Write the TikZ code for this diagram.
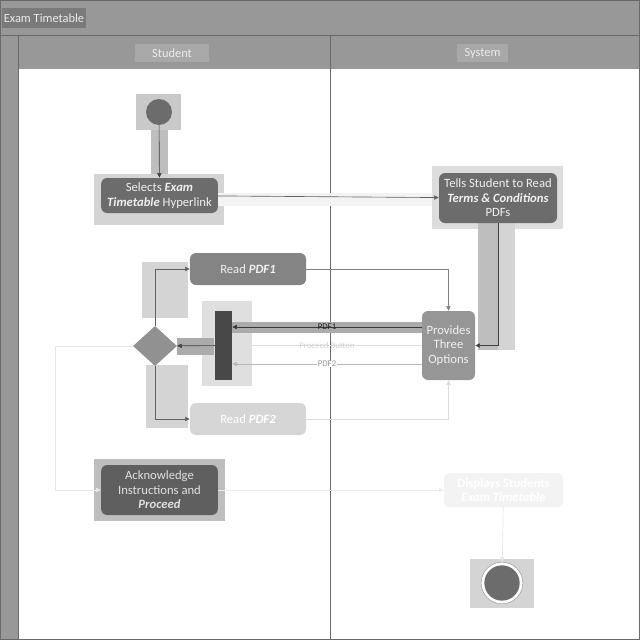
\documentclass[tikz,border=0pt]{standalone}
\usepackage{fontspec}
\setmainfont{Carlito}
\usetikzlibrary{arrows.meta, shapes.geometric}
\definecolor{lanegray} {RGB}{152,152,152}
\definecolor{framegray}{RGB}{105,105,105}
\definecolor{titlebox} {RGB}{122,122,122}
\definecolor{headbox}  {RGB}{168,168,168}
\definecolor{actdark}  {RGB}{108,108,108}
\definecolor{actmid}   {RGB}{132,132,132}
\definecolor{actlight} {RGB}{150,150,150}
\definecolor{actpale}  {RGB}{214,214,214}
\definecolor{actghost} {RGB}{243,243,243}
\definecolor{barclr}   {RGB}{72,72,72}
\definecolor{bandclr}  {RGB}{212,212,212}
\definecolor{banddark} {RGB}{190,190,190}

\begin{document}
\begin{tikzpicture}[x=0.03cm, y=-0.03cm, font=\fontsize{10.8}{12.4}\selectfont,
  act/.style={rounded corners=0.18cm, align=center, text=white!94!black,
    inner sep=1pt, minimum width=3.5cm},
  flow/.style={-{Triangle[length=4pt,width=3.6pt]}, line width=0.55pt},
  lanelabel/.style={fill=#1, text=white!92!black, inner sep=1pt,
    font=\fontsize{10.6}{12}\selectfont}]
  \useasboundingbox (0,0) rectangle (640,640);
  % swimlane frame
  \fill[lanegray] (0,0) rectangle (640,69);
  \fill[lanegray] (0,35) rectangle (18,640);
  \draw[framegray, line width=0.6pt] (0.5,0.5) rectangle (639.5,639.5);
  \draw[framegray, line width=0.6pt] (0,35) -- (640,35);
  \draw[framegray, line width=0.6pt] (18,35) -- (18,640);
  \draw[framegray, line width=0.6pt] (330,35) -- (330,640);
  \node[lanelabel=titlebox, minimum width=2.52cm, minimum height=0.6cm] (title) at (44,18) {Exam Timetable};
  \node[lanelabel=headbox, minimum width=2.22cm, minimum height=0.54cm] (student) at (172,53) {Student};
  \node[lanelabel=headbox, minimum width=1.53cm, minimum height=0.54cm] (system) at (482.5,53) {System};
  % highlight bands
  \fill[bandclr!95!black] (136,94) rectangle (181,130);
  \fill[banddark] (151,130) rectangle (168,180);
  \fill[bandclr] (94,174) rectangle (224,225);
  \fill[actghost] (218,193) rectangle (440,206);
  \fill[bandclr!80!white] (432,166) rectangle (563,229);
  \fill[banddark] (478,223) rectangle (498,350);
  \fill[bandclr] (498,223) rectangle (515,350);
  \fill[bandclr] (142,262) rectangle (188,318);
  \fill[bandclr!75!white] (202,301) rectangle (252,386);
  \fill[banddark!90!black] (177,338) rectangle (214,355);
  \fill[banddark!90!black] (232,322) rectangle (422,333);
  \fill[bandclr] (146,365) rectangle (188,428);
  \fill[banddark] (94,459) rectangle (225,521);
  \fill[bandclr] (470,559) rectangle (534,608);
  % nodes
  \node[circle, fill=actdark, minimum size=0.78cm, inner sep=0] (start) at (159,112) {};
  \node[act, fill=actdark, minimum height=1.05cm] (sel) at (159.5,195.5)
    {Selects \textbf{\textit{Exam}}\\ \textbf{\textit{Timetable}} Hyperlink};
  \node[act, fill=actdark, minimum width=3.54cm, minimum height=1.5cm] (tell) at (498,198)
    {Tells Student to Read\\ \textbf{\textit{Terms \& Conditions}}\\ PDFs};
  \node[act, fill=actmid, minimum width=3.48cm, minimum height=0.96cm] (pdf1) at (248,269)
    {Read \textbf{\textit{PDF1}}};
  \node[act, fill=actlight, minimum width=1.59cm, minimum height=2.07cm] (prov) at (448.5,345.5)
    {Provides\\ Three\\ Options};
  \node[fill=barclr, minimum width=0.51cm, minimum height=2.07cm, inner sep=0] (bar) at (223.5,345.5) {};
  \node[diamond, fill=actlight!105!white, minimum width=1.32cm, minimum height=1.2cm, inner sep=0] (dec) at (155,346) {};
  \node[act, fill=actpale, minimum width=3.48cm, minimum height=0.96cm, text=white] (pdf2) at (248,419)
    {Read \textbf{\textit{PDF2}}};
  \node[act, fill=actdark!88!black, minimum height=1.5cm, text=white!88!black] (ack) at (159.5,490)
    {Acknowledge\\ Instructions and\\ \textbf{\textit{Proceed}}};
  \node[act, fill=actghost, minimum width=3.57cm, minimum height=1.02cm, text=white] (disp) at (503.5,490)
    {\textbf{Displays Students}\\ \textbf{\textit{Exam Timetable}}};
  \node[circle, draw=actdark!70!white, fill=white, minimum size=1.25cm, inner sep=0] (stop) at (502,583) {};
  \fill[actdark] (stop.center) circle (0.53cm);
  \coordinate (turn) at (55,346);
  % connectors
  \draw[flow, black!75] (start) -- (sel);
  \draw[flow, black!62] (sel) -- (tell);
  \draw[flow, black!75] (tell.south) |- (prov.east);
  \draw[flow, black!50] (pdf1.east) -| (prov.north);
  \draw[flow, black!78] ([yshift=0.555cm]prov.west) -- ([yshift=0.555cm]bar.east)
    node[midway, text=black!85, font=\fontsize{7.5}{8}\selectfont, inner sep=0.5pt] {PDF1};
  \draw[flow, black!12] (prov.west) -- (bar.east)
    node[midway, text=black!18, font=\fontsize{7.5}{8}\selectfont, inner sep=0.5pt] {Proceed Button};
  \draw[flow, black!28] ([yshift=-0.555cm]prov.west) -- ([yshift=-0.555cm]bar.east)
    node[midway, fill=white, text=black!40, font=\fontsize{7.5}{8}\selectfont, inner sep=0.5pt] {PDF2};
  \draw[flow, black!75] (bar) -- (dec);
  \draw[flow, black!62] (dec.north) |- (pdf1.west);
  \draw[flow, black!62] (dec.south) |- (pdf2.west);
  \draw[flow, black!14] (pdf2.east) -| (prov.south);
  \draw[flow, black!9] (dec.west) -- (turn) |- (ack.west);
  \draw[flow, black!8] (ack) -- (disp);
  \draw[flow, black!10] (disp) -- (stop);
\end{tikzpicture}
\end{document}
